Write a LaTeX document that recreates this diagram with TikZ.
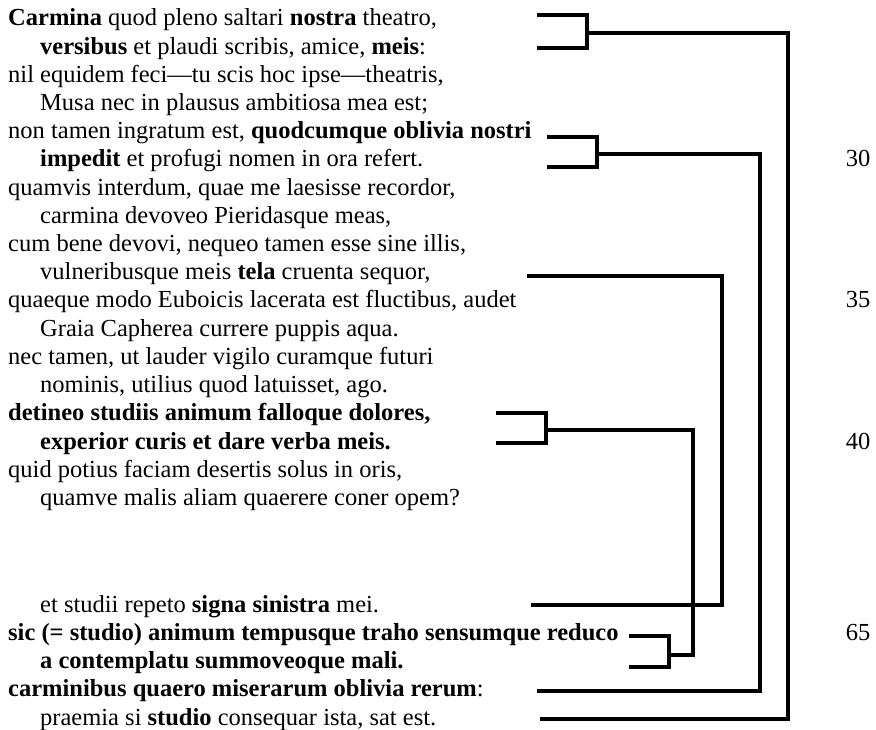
\documentclass[tikz,border=0pt]{standalone}
\usepackage{fontspec}
\setmainfont{Liberation Serif}
\begin{document}
\begin{tikzpicture}[x=1pt,y=-1pt,
  verse/.style={anchor=base west,inner sep=0pt,font=\fontsize{24.5}{28}\selectfont},
  num/.style={anchor=base,inner sep=0pt,font=\fontsize{24.5}{28}\selectfont},
  link/.style={line width=4pt,line join=miter,line cap=butt}]
\useasboundingbox (0,0) rectangle (876,730);
% verses, upper block: centre y = 19 + 28.2 i, baseline = centre + 7
\node[verse] (t0)  at (8,26)     {\textbf{Carmina} quod pleno saltari \textbf{nostra} theatro,};
\node[verse] (t1)  at (40,54.2)  {\textbf{versibus} et plaudi scribis, amice, \textbf{meis}:};
\node[verse] (t2)  at (8,82.4)   {nil equidem feci—tu scis hoc ipse—theatris,};
\node[verse] (t3)  at (40,110.6) {Musa nec in plausus ambitiosa mea est;};
\node[verse] (t4)  at (8,138.8)  {non tamen ingratum est, \textbf{quodcumque oblivia nostri}};
\node[verse] (t5)  at (40,167)   {\textbf{impedit} et profugi nomen in ora refert.};
\node[verse] (t6)  at (8,195.2)  {quamvis interdum, quae me laesisse recordor,};
\node[verse] (t7)  at (40,223.4) {carmina devoveo Pieridasque meas,};
\node[verse] (t8)  at (8,251.6)  {cum bene devovi, nequeo tamen esse sine illis,};
\node[verse] (t9)  at (40,279.8) {vulneribusque meis \textbf{tela} cruenta sequor,};
\node[verse] (t10) at (8,308)    {quaeque modo Euboicis lacerata est fluctibus, audet};
\node[verse] (t11) at (40,336.2) {Graia Capherea currere puppis aqua.};
\node[verse] (t12) at (8,364.4)  {nec tamen, ut lauder vigilo curamque futuri};
\node[verse] (t13) at (40,392.6) {nominis, utilius quod latuisset, ago.};
\node[verse] (t14) at (8,420.8)  {\textbf{detineo studiis animum falloque dolores,}};
\node[verse] (t15) at (40,449)   {\textbf{experior curis et dare verba meis.}};
\node[verse] (t16) at (8,477.2)  {quid potius faciam desertis solus in oris,};
\node[verse] (t17) at (40,505.4) {quamve malis aliam quaerere coner opem?};
% lower block
\node[verse] (b0) at (40,612)    {et studii repeto \textbf{signa sinistra} mei.};
\node[verse] (b1) at (8,640.25)  {\textbf{sic (= studio) animum tempusque traho sensumque reduco}};
\node[verse] (b2) at (40,668.5)  {\textbf{a contemplatu summoveoque mali.}};
\node[verse] (b3) at (8,696.75)  {\textbf{carminibus quaero miserarum oblivia rerum}:};
\node[verse] (b4) at (40,725)    {praemia si \textbf{studio} consequar ista, sat est.};
% line numbers
\node[num] (n30) at (858,167)    {30};
\node[num] (n35) at (858,308)    {35};
\node[num] (n40) at (858,449)    {40};
\node[num] (n65) at (858,640.25) {65};
% connector coordinates
\coordinate (k1a) at (537,15);  \coordinate (k1b) at (537,48);  \coordinate (k1v) at (587,33);
\coordinate (r1)  at (788,719); \coordinate (e1)  at (540,719);
\coordinate (k2a) at (547,137); \coordinate (k2b) at (547,167); \coordinate (k2v) at (597,154);
\coordinate (r2)  at (760,691); \coordinate (e2)  at (537,691);
\coordinate (s3)  at (527,276); \coordinate (r3)  at (722,605); \coordinate (e3)  at (531,605);
\coordinate (k4a) at (496,413); \coordinate (k4b) at (496,443); \coordinate (k4v) at (546,430);
\coordinate (r4)  at (693,655);
\coordinate (k5a) at (629,636); \coordinate (k5b) at (629,667); \coordinate (k5v) at (669,655);
% brackets and connectors
\draw[link] (k1a) -| (k1v) |- (k1b);
\draw[link] (k1v) -| (r1) -- (e1);
\draw[link] (k2a) -| (k2v) |- (k2b);
\draw[link] (k2v) -| (r2) -- (e2);
\draw[link] (s3) -| (r3) -- (e3);
\draw[link] (k4a) -| (k4v) |- (k4b);
\draw[link] (k4v) -| (r4) -- (k5v);
\draw[link] (k5a) -| (k5v) |- (k5b);
\end{tikzpicture}
\end{document}
